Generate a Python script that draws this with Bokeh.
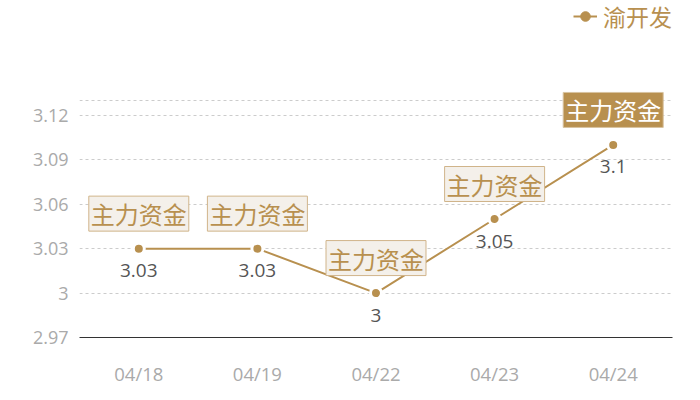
from bokeh.plotting import figure
from bokeh.models import (FactorRange, Range1d, FixedTicker, CustomJSTickFormatter,
                          Span, Label, Legend, LegendItem, ColumnDataSource)
from bokeh.embed import file_html
from bokeh.resources import INLINE
from bokeh.core.properties import value

# ---- data ----
dates = ["04/18", "04/19", "04/22", "04/23", "04/24"]
prices = [3.03, 3.03, 3.00, 3.05, 3.10]
price_labels = ["3.03", "3.03", "3", "3.05", "3.1"]
tags = ["主力资金", "主力资金", "主力资金", "主力资金", "主力资金"]
tag_highlight = [False, False, False, False, True]
series_name = "渝开发"
y_ticks = [2.97, 3.00, 3.03, 3.06, 3.09, 3.12]
y_min, y_max = 2.97, 3.13

# ---- styles / layout ----
GOLD = "#b8904f"
BOX_FILL = "#f4f0ea"
BOX_LINE = "#d0b48a"
GRID = "#cccccc"
TICK_TXT = "#aaaaaa"
CJK = "Noto Sans CJK SC"
NUM = "Open Sans"

W, H = 700, 400
LEFT, RIGHT, BOTTOM = 79, 28, 63
PLOT_TOP_PX = 100            # where y_max sits (px from top)
frame_h = H - BOTTOM
# extend the range upward so the legend area lies inside the frame
y_top = y_min + (y_max - y_min) * frame_h / (frame_h - PLOT_TOP_PX)

p = figure(width=W, height=H, output_backend="svg", toolbar_location=None,
           x_range=FactorRange(*dates), y_range=Range1d(y_min, y_top),
           min_border_left=LEFT, min_border_right=RIGHT, min_border_top=0,
           min_border_bottom=BOTTOM)
p.outline_line_color = None
p.background_fill_color = "white"
p.border_fill_color = "white"

# axes
p.yaxis.ticker = FixedTicker(ticks=y_ticks)
p.yaxis.formatter = CustomJSTickFormatter(code="return String(parseFloat(tick.toFixed(2)));")
p.yaxis.axis_line_color = None
p.yaxis.major_tick_line_color = None
p.yaxis.minor_tick_line_color = None
p.yaxis.major_label_text_color = TICK_TXT
p.yaxis.major_label_text_font = NUM
p.yaxis.major_label_text_font_size = "18px"
p.yaxis.major_label_standoff = 5

p.xaxis.axis_line_color = "#333333"
p.xaxis.axis_line_width = 1
p.xaxis.major_tick_line_color = None
p.xaxis.minor_tick_line_color = None
p.xaxis.major_label_text_color = TICK_TXT
p.xaxis.major_label_text_font = NUM
p.xaxis.major_label_text_font_size = "18.5px"
p.xaxis.major_label_standoff = 17

p.xgrid.grid_line_color = None
p.ygrid.grid_line_color = GRID
p.ygrid.grid_line_dash = "3 3"
p.ygrid.grid_line_width = 1
p.add_layout(Span(location=y_max, dimension="width", line_color=GRID,
                  line_dash="3 3", line_width=1))

src = ColumnDataSource(dict(date=dates, price=prices, lab=price_labels))

line_r = p.line(x="date", y="price", source=src, line_color=GOLD, line_width=2)
# solid dot used for the legend symbol (hidden beneath the ringed markers)
legend_dot = p.scatter(x="date", y="price", source=src, size=10, fill_color=GOLD,
                       line_color=GOLD, line_width=1)
pts_r = p.scatter(x="date", y="price", source=src, size=11, fill_color=GOLD,
                  line_color="white", line_width=3)

p.text(x="date", y="price", text="lab", source=src, y_offset=22,
       text_align="center", text_baseline="middle", text_color="#555555",
       text_font=value(NUM), text_font_size="19px")

for d, v, t, hi in zip(dates, prices, tags, tag_highlight):
    # synthetic categorical coordinate: centre of the factor's band
    lab = Label(x=dates.index(d) + 0.5, y=v, text=t, y_offset=35,
                text_align="center", text_baseline="middle",
                text_font=CJK, text_font_size="24px",
                text_color="white" if hi else GOLD,
                background_fill_color=GOLD if hi else BOX_FILL,
                border_line_color="#d8c3a0" if hi else BOX_LINE, border_line_width=1,
                padding=dict(top=0, right=2, bottom=0, left=2))
    p.add_layout(lab)

legend = Legend(items=[LegendItem(label=series_name, renderers=[line_r, legend_dot])],
                location=(494, 304), orientation="horizontal",
                label_text_font=CJK, label_text_font_size="23px", label_text_color=GOLD,
                glyph_width=24, glyph_height=24, label_standoff=6, padding=0, margin=0,
                border_line_color=None, background_fill_alpha=0)
p.add_layout(legend)

open("out.html", "w").write(file_html(p, INLINE))
